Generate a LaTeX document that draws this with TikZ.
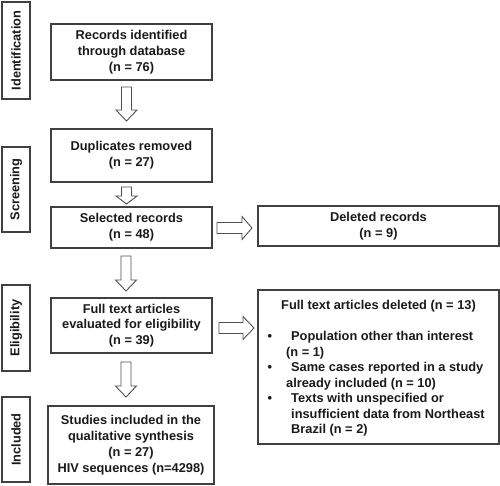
\documentclass[tikz,border=0pt]{standalone}
\usepackage{fontspec}
\setmainfont{Liberation Sans}
\definecolor{boxline}{HTML}{404040}
\definecolor{arrline}{HTML}{505050}
\definecolor{txt}{HTML}{1A1A1A}
\newcommand\myDownArrow[4]{%
  \draw[blockarrow] (#1-5,#2) -- (#1+5,#2) -- (#1+5,#3) -- (#1+10.5,#3) -- (#1,#4)
    -- (#1-10.5,#3) -- (#1-5,#3) -- cycle;}
\newcommand\myRightArrow[4]{%
  \draw[blockarrow] (#1,#4-5.5) -- (#2,#4-5.5) -- (#2,#4-11.5) -- (#3,#4)
    -- (#2,#4+11.5) -- (#2,#4+5.5) -- (#1,#4+5.5) -- cycle;}
\begin{document}
\begin{tikzpicture}[x=1pt,y=-1pt,
  every node/.style={text=txt,font=\bfseries\fontsize{12.8}{15.8}\selectfont},
  mainbox/.style={draw=boxline,line width=1.1pt,fill=white,align=center,inner sep=0pt},
  sidebox/.style={draw=boxline,line width=1.1pt,fill=white,inner sep=0pt,minimum width=28pt},
  sidelabel/.style={rotate=90},
  blockarrow/.style={draw=arrline,line width=0.9pt,fill=white,line join=miter}]
\useasboundingbox (0,0) rectangle (500,486);
\fill[white] (0,0) rectangle (500,486);

% side boxes
\node[sidebox,minimum height=97pt] (sId) at (16,50.5) {};
\node[sidelabel] (lId) at (sId.center) {Identification};
\node[sidebox,minimum height=85pt] (sSc) at (16,189.5) {};
\node[sidelabel] (lSc) at (sSc.center) {Screening};
\node[sidebox,minimum height=86pt] (sEl) at (16,328) {};
\node[sidelabel] (lEl) at (sEl.center) {Eligibility};
\node[sidebox,minimum height=85pt] (sIn) at (16,439.5) {};
\node[sidelabel] (lIn) at (sIn.center) {Included};

% main boxes
\node[mainbox,minimum width=161pt,minimum height=56pt] (b1) at (131.5,52)
  {Records identified\\through database\\(n = 76)};
\node[mainbox,minimum width=161pt,minimum height=53pt] (b2) at (131.5,155.5)
  {Duplicates removed\\(n = 27)};
\node[mainbox,minimum width=161pt,minimum height=41pt] (b3) at (131.5,227.5)
  {Selected records\\(n = 48)};
\node[mainbox,minimum width=161pt,minimum height=55pt] (b4) at (131.5,325.5)
  {Full text articles\\evaluated for eligibility\\(n = 39)};
\node[mainbox,minimum width=166pt,minimum height=78pt] (b5) at (131,445)
  {Studies included in the\\qualitative synthesis\\(n = 27)\\HIV sequences (n=4298)};
\node[mainbox,minimum width=241pt,minimum height=40pt] (r1) at (378.5,226)
  {Deleted records\\(n = 9)};
\node[mainbox,minimum width=241pt,minimum height=154pt] (r2) at (378.5,367) {};
\node (r2h) at (378.5,306) {Full text articles deleted (n = 13)};
\node[anchor=north west,align=left,inner sep=0pt,
  font=\bfseries\fontsize{12.8}{15.5}\selectfont] (r2l) at (291,331.5)
  {\llap{\textbullet\hspace{19pt}}Population other than interest\\
   \hspace*{-5pt}(n = 1)\\
   \llap{\textbullet\hspace{19pt}}Same cases reported in a study\\
   \hspace*{-5pt}already included (n = 10)\\
   \llap{\textbullet\hspace{19pt}}Texts with unspecified or\\
   insufficient data from Northeast\\
   Brazil (n = 2)};

% block arrows
\myDownArrow{126.5}{87}{110}{121}
\myDownArrow{126.5}{187}{196}{204}
\myDownArrow{126}{256}{280}{291}
\myDownArrow{126}{362}{386}{397}
\myRightArrow{217}{242}{252}{228}
\myRightArrow{219}{243}{254}{328}
\end{tikzpicture}
\end{document}
